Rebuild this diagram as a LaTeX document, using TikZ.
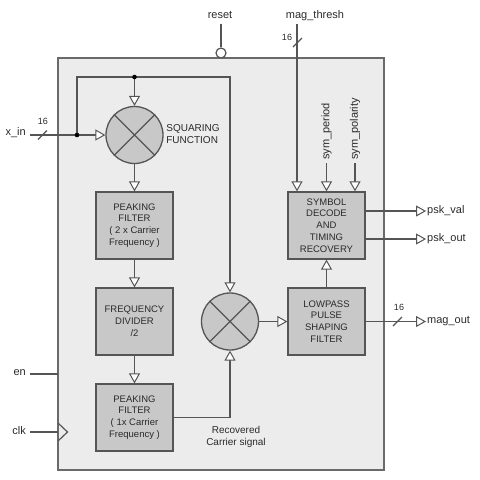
\documentclass[tikz,border=0pt]{standalone}
\usepackage{fontspec}
\setmainfont{Liberation Sans}
\usetikzlibrary{arrows.meta,calc}
\definecolor{outerfill}{HTML}{ECECEC}
\definecolor{outerline}{HTML}{6A6A6A}
\definecolor{blkfill}{HTML}{C8C8C8}
\definecolor{blkline}{HTML}{555555}
\definecolor{txt}{HTML}{2A2A2A}
\definecolor{wire}{HTML}{555555}
\begin{document}
\begin{tikzpicture}[x=1pt,y=-1pt,
  lbl/.style={text=txt,font=\fontsize{11}{13}\selectfont,inner sep=1pt},
  small/.style={text=txt,font=\fontsize{9}{11}\selectfont,inner sep=0pt},
  blk/.style={draw=blkline,fill=blkfill,line width=1.3pt,minimum width=77pt,minimum height=67pt,
    align=center,text=txt,font=\fontsize{9.5}{11.8}\selectfont,inner sep=0pt},
  mult/.style={draw=blkline,fill=blkfill,line width=1.3pt,circle,minimum size=57pt,inner sep=0pt},
  ln/.style={draw=wire,line width=1.2pt},
  arr/.style={ln,-{Triangle[length=10pt,width=11pt,fill=white,line width=1pt]}},
  dotc/.style={fill=black}
]
\useasboundingbox (0,0) rectangle (480,480);
% outer box
\node[draw=outerline,fill=outerfill,line width=1.4pt,minimum width=326pt,minimum height=412pt,inner sep=0pt] (top) at (221,264) {};

% blocks
\node[mult] (sq) at (134.5,135) {};
\draw[ln,line width=1.1pt] (sq.north west) -- (sq.south east) (sq.north east) -- (sq.south west);
\node[lbl,align=left,font=\fontsize{10}{12}\selectfont] (sqlbl) at (193,134) {SQUARING\\FUNCTION};

\node[blk] (pf1) at (134.5,225.5) {PEAKING\\FILTER\\( 2 x Carrier\\Frequency )};
\node[blk] (fd) at (134.5,321.5) {FREQUENCY\\DIVIDER\\/2};
\node[blk] (pf2) at (134.5,417.5) {PEAKING\\FILTER\\( 1x Carrier\\Frequency )};

\node[mult] (m2) at (230,321.5) {};
\draw[ln,line width=1.1pt] (m2.north west) -- (m2.south east) (m2.north east) -- (m2.south west);

\node[blk] (lp) at (326.5,321.5) {LOWPASS\\PULSE\\SHAPING\\FILTER};
\node[blk] (sd) at (326.5,225.5) {SYMBOL\\DECODE\\AND\\TIMING\\RECOVERY};

\node[lbl,align=center,font=\fontsize{10}{12}\selectfont] (rcs) at (236,437) {Recovered\\Carrier signal};

% x_in input and loop
\node[lbl,anchor=east] (xin) at (27,133) {x\_in};
\coordinate (d1) at (77,135);
\coordinate (d2) at (134.5,77);
\coordinate (lc) at (230,77);
\draw[arr] (30,135) -- (sq.west);
\draw[ln] (38,139.5) -- (47,130.5);
\node[small] (n16a) at (43,121) {16};
\draw[arr] (d1) |- (lc) -- (m2.north);
\draw[arr] (d2) -- (sq.north);
\fill[black] (d1) circle (2.3pt) (d2) circle (2.3pt);

% chain
\draw[arr] (sq.south) -- (pf1.north);
\draw[arr] (pf1.south) -- (fd.north);
\draw[arr] (fd.south) -- (pf2.north);
\draw[arr] (pf2.east) -| (m2.south);
\draw[arr] (m2.east) -- (lp.west);
\draw[arr] (lp.north) -- (sd.south);

% reset
\node[lbl] (rst) at (220,15) {reset};
\node[draw=blkline,fill=white,line width=1.2pt,circle,minimum size=10pt,inner sep=0pt] (rc) at (221,53) {};
\draw[ln] (221,24) -- (rc.north);

% mag_thresh
\node[lbl] (mt) at (315,16) {mag\_thresh};
\coordinate (mtl) at (297,24);
\draw[arr] (mtl) -- (mtl |- sd.north);
\draw[ln] (293,47) -- (302,38);
\node[small] (n16b) at (287,37) {16};

% sym inputs
\coordinate (spl) at (326.5,163);
\coordinate (sql) at (355,163);
\node[lbl,rotate=90,anchor=west] (sp) at (326.5,161) {sym\_period};
\node[lbl,rotate=90,anchor=west] (spo) at (355,161) {sym\_polarity};
\draw[arr] (spl) -- (spl |- sd.north);
\draw[arr] (sql) -- (sql |- sd.north);

% outputs
\node[lbl,anchor=west] (pv) at (426,211) {psk\_val};
\node[lbl,anchor=west] (po) at (426,239) {psk\_out};
\node[lbl,anchor=west] (mo) at (426,321.5) {mag\_out};
\draw[arr] (sd.east |- pv) -- (pv.west);
\draw[arr] (sd.east |- po) -- (po.west);
\draw[arr] (lp.east) -- (mo.west);
\draw[ln] (393,326) -- (402,317);
\node[small] (n16c) at (399,307) {16};

% en, clk
\node[lbl,anchor=east] (en) at (27,373) {en};
\draw[ln] (30,374) -- (58,374);
\node[lbl,anchor=east] (clk) at (27,431) {clk};
\draw[ln] (30,432) -- (58,432);
\draw[draw=blkline,line width=1.2pt] (58,423) -- (67.5,432) -- (58,441);
\end{tikzpicture}
\end{document}
